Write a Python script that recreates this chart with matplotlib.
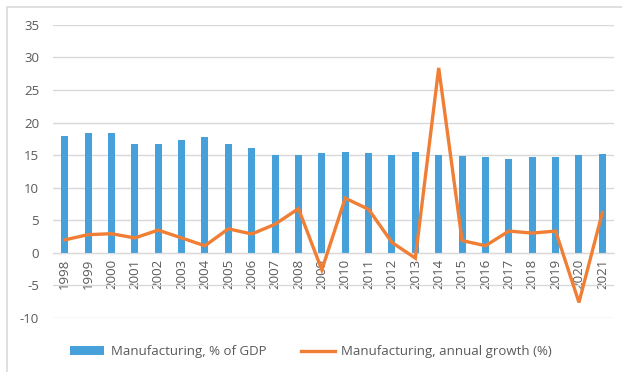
import numpy as np
import matplotlib.pyplot as plt
from matplotlib.patches import Rectangle

plt.rcParams["font.family"] = ["Open Sans", "DejaVu Sans"]

years = [str(y) for y in range(1998, 2022)]
share_gdp = [17.9, 18.4, 18.4, 16.7, 16.7, 17.4, 17.8, 16.7, 16.1, 15.0, 15.0, 15.3,
             15.5, 15.3, 15.1, 15.5, 15.1, 14.9, 14.75, 14.4, 14.75, 14.75, 15.1, 15.25]
growth = [2.0, 2.8, 2.95, 2.3, 3.5, 2.3, 1.1, 3.7, 2.9, 4.4, 6.8, -2.6,
          8.4, 6.7, 1.6, -0.8, 28.4, 1.9, 1.1, 3.35, 3.05, 3.35, -7.6, 6.2]
yticks = [-10, -5, 0, 5, 10, 15, 20, 25, 30, 35]

BAR_COLOR = "#46a0da"
LINE_COLOR = "#f07f35"
TEXT_COLOR = "#595959"
GRID_COLOR = "#d9d9d9"
FS = 9.5

fig = plt.figure(figsize=(6.22, 3.72), dpi=100)
ax = fig.add_axes([0.0852, 0.145, 0.902, 0.788])

# x axis sits on the zero line (set before styling ticks, it resets them)
ax.spines["bottom"].set_position(("data", 0))
ax.spines["bottom"].set_color(GRID_COLOR)
for side in ("top", "left", "right"):
    ax.spines[side].set_visible(False)

x = np.arange(len(years))
bars = ax.bar(x, share_gdp, width=0.3, color=BAR_COLOR, zorder=2,
              label="Manufacturing, % of GDP")
line, = ax.plot(x, growth, color=LINE_COLOR, lw=2.4, zorder=3,
                solid_joinstyle="miter", label="Manufacturing, annual growth (%)")

ax.set_xlim(-0.5, len(years) - 0.5)
ax.set_ylim(-10, 35)
ax.set_yticks(yticks)
ax.set_yticklabels([str(v) for v in yticks])
ax.yaxis.grid(True, color=GRID_COLOR, lw=1, zorder=0)
ax.set_axisbelow(True)

ax.set_xticks(x)
ax.set_xticklabels(years, rotation=90, va="top")

ax.tick_params(axis="both", length=0, labelsize=FS, colors=TEXT_COLOR)
ax.tick_params(axis="x", pad=4)
ax.tick_params(axis="y", pad=10)

fig.legend(handles=[bars, line], loc="center", bbox_to_anchor=(0.5, 0.054),
           ncol=2, frameon=False, fontsize=FS, labelcolor=TEXT_COLOR,
           handlelength=2.6, handleheight=0.7, columnspacing=2.6,
           handletextpad=0.5)

# chart frame
fig.patches.append(Rectangle((0.012, -0.01), 1.0, 0.99, transform=fig.transFigure,
                             fill=False, edgecolor="#d9d9d9", lw=1.2))

fig.savefig("out.png", dpi=100)
